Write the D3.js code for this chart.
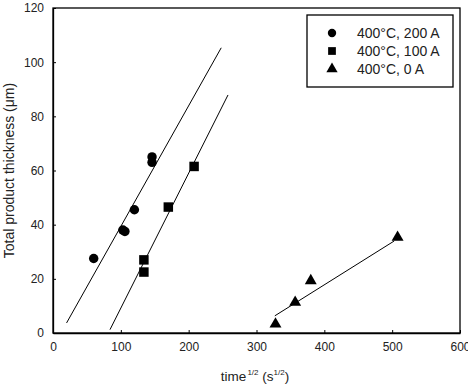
<!DOCTYPE html>
<html>
<head>
<meta charset="utf-8">
<script src="https://cdnjs.cloudflare.com/ajax/libs/d3/7.8.5/d3.min.js"></script>
<style>
  body { margin: 0; background: #fff; }
  svg { display: block; font-family: "Liberation Sans", Arial, sans-serif; }
  .axis path, .axis line { stroke: #000; }
  .axis text { fill: #222; font-size: 12px; }
</style>
</head>
<body>
<svg width="468" height="385"></svg>
<script>
// data
const seriesNames = ['400°C, 200 A', '400°C, 100 A', '400°C, 0 A'];
const symbols = [d3.symbolCircle, d3.symbolSquare, d3.symbolTriangle];

const x200 = [60, 103, 106, 120, 146, 146];
const y200 = [27.5, 38, 37.5, 45.5, 65, 63];
const x100 = [134, 134, 170, 208];
const y100 = [27, 22.5, 46.5, 61.5];
const x0 = [328, 357, 380, 508];
const y0 = [3.3, 11.3, 19.3, 35.3];

// fitted lines: [x start, x end, slope, intercept]
const fits = [
  [20, 248, 0.4456, -5.2],
  [84, 258, 0.498, -40.6],
  [327, 503, 0.157, -45.0]
];

const xTicks = [0, 100, 200, 300, 400, 500, 600];
const yTicks = [0, 20, 40, 60, 80, 100, 120];

const margin = { top: 8, right: 8, bottom: 52, left: 53 };
const svg = d3.select('svg');
const W = +svg.attr('width'), H = +svg.attr('height');
const width = W - margin.left - margin.right;
const height = H - margin.top - margin.bottom;

const x = d3.scaleLinear().domain([0, 600]).range([0, width]);
const y = d3.scaleLinear().domain([0, 120]).range([height, 0]);

const g = svg.append('g')
  .attr('transform', 'translate(' + margin.left + ',' + margin.top + ')');

// frame
g.append('rect')
  .attr('width', width).attr('height', height)
  .attr('fill', 'none').attr('stroke', '#000').attr('stroke-width', 1.3);

g.append('g')
  .attr('class', 'axis')
  .attr('transform', 'translate(0,' + height + ')')
  .call(d3.axisBottom(x).tickValues(xTicks).tickSizeInner(-3).tickSizeOuter(0).tickPadding(9))
  .call(s => s.select('.domain').attr('stroke-width', 1.3));

g.append('g')
  .attr('class', 'axis')
  .call(d3.axisLeft(y).tickValues(yTicks).tickSizeInner(-3).tickSizeOuter(0).tickPadding(9))
  .call(s => s.select('.domain').attr('stroke-width', 1.3));

// fit lines
const line = d3.line().x(d => x(d[0])).y(d => y(d[1]));
fits.forEach(f => {
  g.append('path')
    .attr('d', line([[f[0], f[2] * f[0] + f[3]], [f[1], f[2] * f[1] + f[3]]]))
    .attr('fill', 'none').attr('stroke', '#000').attr('stroke-width', 1);
});

// points
const sets = [[x200, y200], [x100, y100], [x0, y0]];
const sizes = [70, 90, 62];
sets.forEach((s, i) => {
  g.selectAll(null)
    .data(s[0].map((v, k) => [v, s[1][k]]))
    .enter().append('path')
    .attr('d', d3.symbol().type(symbols[i]).size(sizes[i]))
    .attr('transform', d => 'translate(' + x(d[0]) + ',' + y(d[1]) + ')')
    .attr('fill', '#000');
});

// legend
const leg = svg.append('g').attr('transform', 'translate(307,15)');
leg.append('rect')
  .attr('width', 146).attr('height', 72)
  .attr('fill', '#fff').attr('stroke', '#000').attr('stroke-width', 1.3);
const legSizes = [55, 60, 55];
seriesNames.forEach((n, i) => {
  const yy = 18 + i * 18;
  leg.append('path')
    .attr('d', d3.symbol().type(symbols[i]).size(legSizes[i]))
    .attr('transform', 'translate(25,' + yy + ')')
    .attr('fill', '#000');
  leg.append('text')
    .attr('x', 50).attr('y', yy + 5)
    .attr('font-size', 14)
    .attr('fill', '#222')
    .text(n);
});

// axis titles
svg.append('text')
  .attr('transform', 'translate(14,' + (margin.top + height / 2) + ') rotate(-90)')
  .attr('text-anchor', 'middle')
  .attr('font-size', 14)
  .attr('fill', '#222')
  .text('Total product thickness (μm)');

const xt = svg.append('text')
  .attr('x', 255).attr('y', 381)
  .attr('text-anchor', 'middle')
  .attr('font-size', 13.5)
  .attr('fill', '#222');
xt.append('tspan').text('time');
xt.append('tspan').attr('font-size', 8).attr('dy', -6).attr('dx', 1).text('1/2');
xt.append('tspan').attr('dy', 6).text(' (s');
xt.append('tspan').attr('font-size', 8).attr('dy', -6).text('1/2');
xt.append('tspan').attr('dy', 6).text(')');
</script>
</body>
</html>
